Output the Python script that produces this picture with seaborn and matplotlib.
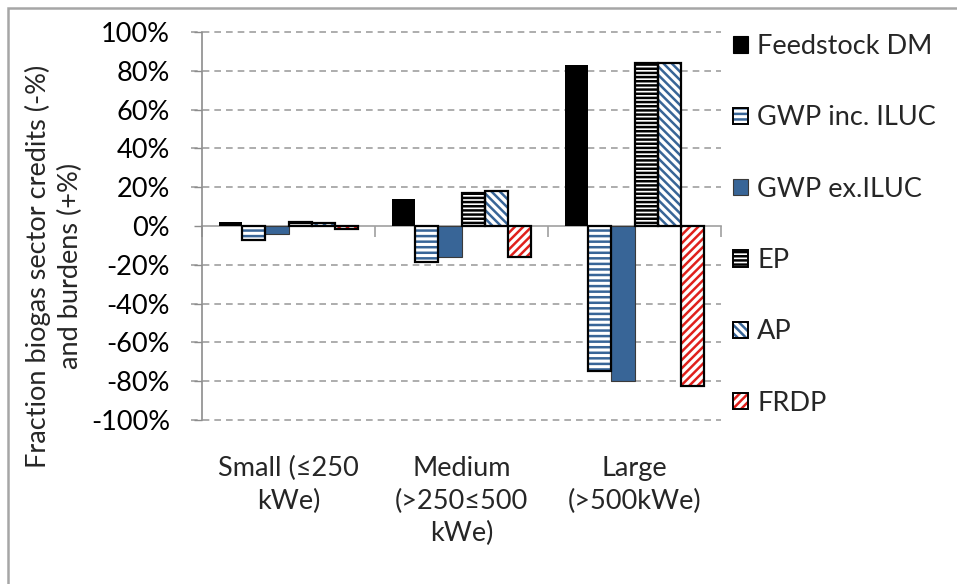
import matplotlib
matplotlib.use("Agg")
import matplotlib.pyplot as plt
import matplotlib.transforms as mtransforms
from matplotlib.patches import Rectangle, Patch
from matplotlib.legend_handler import HandlerTuple
from matplotlib.ticker import FixedLocator, PercentFormatter
import seaborn as sns
import pandas as pd

# Plant size classes
categories = ["Small (≤250\nkWe)", "Medium\n(>250≤500\nkWe)", "Large\n(>500kWe)"]

# Impact indicators (fraction of sector credits/burdens, %)
series = ["Feedstock DM", "GWP inc. ILUC", "GWP ex.ILUC", "EP", "AP", "FRDP"]
feedstock_dm = [2.2, 14.0, 83.0]
gwp_inc_iluc = [-7.4, -18.4, -74.5]
gwp_ex_iluc = [-4.0, -15.8, -80.0]
ep = [2.0, 17.2, 84.0]
ap = [1.5, 17.8, 84.0]
frdp = [-1.5, -16.0, -82.6]

y_ticks = [-100, -80, -60, -40, -20, 0, 20, 40, 60, 80, 100]

values = [feedstock_dm, gwp_inc_iluc, gwp_ex_iluc, ep, ap, frdp]
df = pd.DataFrame(
    [(c, s, v) for s, vals in zip(series, values) for c, v in zip(categories, vals)],
    columns=["size", "indicator", "value"],
)

# fill colour, hatch colour, hatch pattern, outline colour, outline width
BLUE = "#386597"
RED = "#E0201B"
styles = {
    "Feedstock DM": ("black", None, "", "black", 0.0),
    "GWP inc. ILUC": ("white", BLUE, "---", "black", 1.6),
    "GWP ex.ILUC": (BLUE, None, "", "#3a3a3a", 0.8),
    "EP": ("white", "black", "----", "black", 1.6),
    "AP": ("white", BLUE, "\\\\\\\\", "black", 1.6),
    "FRDP": ("white", RED, "////", "black", 1.6),
}

FS = 19.5

sns.set_theme(style="white")
plt.rcParams["font.family"] = ["Lato", "DejaVu Sans"]
plt.rcParams["hatch.linewidth"] = 1.8
plt.rcParams["axes.unicode_minus"] = False

fig = plt.figure(figsize=(9.57, 5.84), dpi=100)
ax = fig.add_axes([202 / 957, 1 - 420 / 584, (721 - 202) / 957, (420 - 32) / 584])

sns.barplot(
    data=df, x="size", y="value", hue="indicator", order=categories,
    hue_order=series, palette=["white"] * len(series), width=0.8,
    legend=False, ax=ax, saturation=1,
)

legend_handles = []
for name, cont in zip(series, ax.containers):
    face, hcol, hatch, ecol, lw = styles[name]
    for bar in cont:
        bar.set_facecolor(face)
        if hatch:
            bar.set_hatch(hatch)
            bar.set_edgecolor(hcol)
            bar.set_linewidth(0)
            outline = Rectangle(bar.get_xy(), bar.get_width(), bar.get_height(),
                                fill=False, edgecolor=ecol, linewidth=lw,
                                zorder=bar.get_zorder() + 0.1)
            ax.add_patch(outline)
        else:
            bar.set_edgecolor(ecol)
            bar.set_linewidth(lw)
    if hatch:
        h = (Patch(facecolor=face, edgecolor=hcol, hatch=hatch, linewidth=0),
             Patch(facecolor="none", edgecolor=ecol, linewidth=1.4))
    else:
        h = (Patch(facecolor=face, edgecolor=ecol if lw else face, linewidth=0.8),)
    legend_handles.append(h)

ax.set_ylim(-100, 100)
ax.set_xlim(-0.5, len(categories) - 0.5)
ax.set_yticks(y_ticks)
ax.yaxis.set_major_formatter(PercentFormatter(decimals=0))
ax.tick_params(axis="y", labelsize=FS, length=6, width=1, color="#8c8c8c",
               direction="out", left=True, pad=17, labelcolor="black")

# dashed gridlines at every step except zero, reaching out over the tick marks
grid_trans = mtransforms.blended_transform_factory(ax.transAxes, ax.transData)
for t in y_ticks:
    if t != 0:
        ax.plot([-0.022, 1.0], [t, t], transform=grid_trans, color="#a0a0a0",
                linestyle=(0, (4, 3)), linewidth=1.2, zorder=0, clip_on=False)

for s in ["top", "right"]:
    ax.spines[s].set_visible(False)
ax.spines["left"].set_color("#8c8c8c")
ax.spines["left"].set_linewidth(1.2)

# zero line as the category axis with boundary ticks
ax.spines["bottom"].set_position(("data", 0))
ax.spines["bottom"].set_color("#a0a0a0")
ax.spines["bottom"].set_linewidth(1.2)
ax.spines["bottom"].set_zorder(0.5)
ax.xaxis.set_major_locator(FixedLocator([i - 0.5 for i in range(len(categories) + 1)]))
ax.tick_params(axis="x", bottom=True, length=8, width=1.2, color="#a0a0a0",
               direction="out", labelbottom=False)
ax.set_xlabel("")
ax.set_ylabel("")

# category labels below the plot area
trans = mtransforms.blended_transform_factory(ax.transData, ax.transAxes)
for i, c in enumerate(categories):
    ax.text(i, (420 - 456) / 388, c, transform=trans, ha="center", va="top",
            fontsize=FS, linespacing=1.38)

fig.text(54 / 957, 1 - 266 / 584,
         "Fraction biogas sector credits (-%)\nand burdens (+%)",
         rotation=90, ha="center", va="center", fontsize=FS, linespacing=1.38)

fig.legend(
    legend_handles, series, handler_map={tuple: HandlerTuple(ndivide=1, pad=0)},
    loc="upper left", bbox_to_anchor=(733 / 957, 1 - 34 / 584), frameon=False,
    fontsize=FS, handlelength=0.55, handleheight=0.55, handletextpad=0.35,
    labelspacing=1.71, borderpad=0, borderaxespad=0,
)

# chart area frame
fig.add_artist(Rectangle((8 / 957, -0.2), 1.2, 1.2 - 8 / 584, transform=fig.transFigure,
                         fill=False, edgecolor="#a6a6a6", linewidth=1.8))

fig.savefig("out.png", dpi=100)
